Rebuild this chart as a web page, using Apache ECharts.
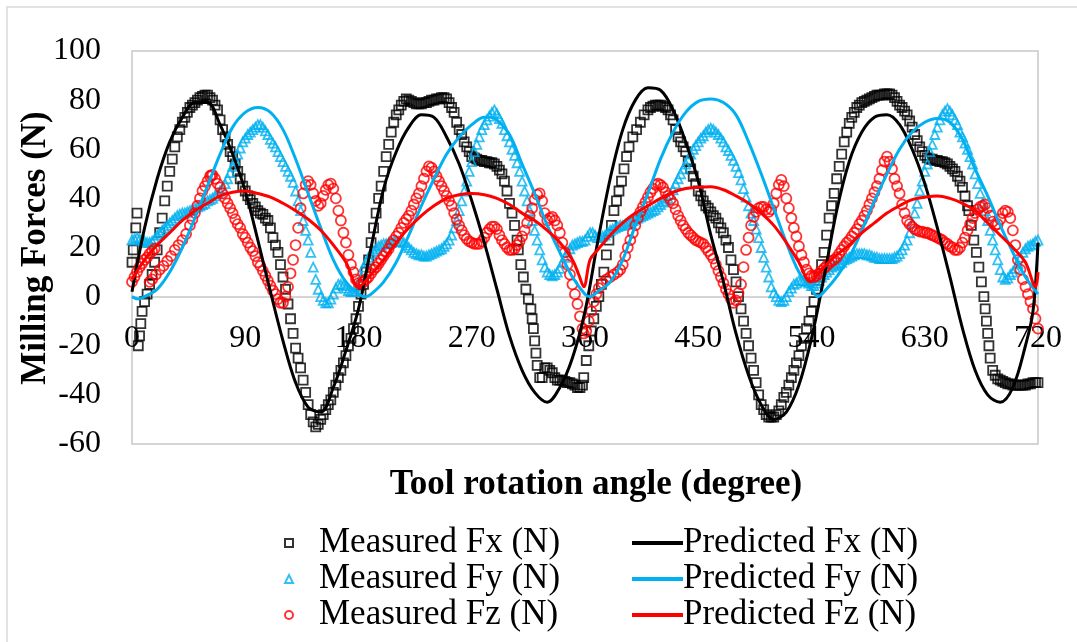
<!DOCTYPE html>
<html>
<head>
<meta charset="utf-8">
<script src="https://cdn.jsdelivr.net/npm/echarts@6/dist/echarts.min.js"></script>
<style>
html,body{margin:0;padding:0;background:#fff;}
#chart{width:1077px;height:642px;}
</style>
</head>
<body>
<div id="chart"></div>
<script>
// [angle (degree), force (N)]
const measuredFx = [[0,14],[1,19],[3,28],[4,34],[5,-20],[6,-16],[7,-11],[8,-6],[10,-2],[12,1],[14,5],[16,9],[18,14],[20,19],[22,26],[24,32],[26,39],[28,45],[30,51],[32,56],[34,61],[36,65],[38,68],[40,71],[42,73],[44,75],[46,77],[48,78],[50,79],[52,80],[54,81],[56,81.5],[58,82],[60,82],[62,81],[64,80],[66,78],[68,76],[70,72],[72,68],[74,65],[76,62],[78,59],[80,57],[82,54],[84,51],[86,48],[88,45],[90,43],[92,41],[94,39.5],[96,38],[98,36.5],[100,35],[102,34],[104,33.5],[106,32],[108,31],[110,28],[112,24],[114,21],[116,18],[118,13],[120,8],[122,3],[124,-3],[126,-9],[128,-15],[130,-21],[132,-25],[134,-29],[136,-34],[138,-39],[140,-44],[142,-48],[144,-51],[146,-53],[148,-52],[150,-50],[152,-48],[154,-46],[156,-44],[158,-42],[160,-39],[162,-36],[164,-33],[166,-30],[168,-27],[170,-24],[172,-20],[174,-17],[176,-13],[178,-9],[180,-4],[182,1],[184,5],[186,10],[188,15],[190,22],[192,28],[194,34],[196,40],[198,45],[200,51],[202,57],[204,62],[206,67],[208,71],[210,74],[212,76],[214,78],[216,79.5],[218,80.5],[220,80],[222,79.5],[224,79],[226,78.5],[228,78.5],[230,78.5],[232,79],[234,79],[236,79.5],[238,80],[240,80],[242,80.5],[244,80.5],[246,81],[248,81],[250,80.5],[252,79],[254,77],[256,75],[258,71],[260,68],[262,66],[264,63],[266,61],[268,59],[270,57],[272,56.5],[274,56],[276,55.5],[278,55.5],[280,55],[282,55],[284,54.5],[286,54.5],[288,54],[290,53],[292,51.5],[294,50],[296,47],[298,43],[300,38],[302,34],[304,29],[306,23],[307,19],[309,13],[311,8],[313,3],[315,-1],[317,-5],[318,-9],[319,-13],[320,-18],[321,-23],[322,-28],[324,-33],[326,-33],[328,-29],[330,-29],[332,-30],[334,-31],[336,-33],[338,-34],[340,-34],[342,-34],[344,-34.5],[346,-35],[348,-35],[350,-35.5],[352,-36],[354,-37],[356,-37],[358,-36],[359,-33],[361,-26],[363,-20],[365,-14],[367,-9],[369,-4],[371,0],[373,5],[375,10],[377,17],[379,23],[381,29],[383,35],[385,39],[387,43],[389,47],[391,52],[393,57],[395,61],[398,65],[401,68],[404,71],[407,74],[410,76],[412,77],[414,77.5],[416,78],[418,78],[420,78],[422,77.5],[424,77],[426,76],[428,74],[430,72],[432,68],[434,65],[436,63],[438,61],[440,59],[442,55],[444,52],[446,49],[448,46],[450,43],[452,41],[454,39],[456,37],[458,36],[460,34.5],[462,33],[464,32],[466,30],[468,28],[470,26],[472,23],[474,20],[476,15],[478,11],[480,6],[482,0],[484,-5],[486,-10],[488,-15],[490,-20],[492,-25],[494,-30],[496,-35],[498,-40],[500,-44],[502,-46],[504,-48],[506,-49],[508,-49],[510,-49],[512,-48],[514,-46.5],[516,-44],[518,-41],[520,-39],[522,-36],[524,-33],[526,-30],[528,-27],[530,-24],[532,-20],[534,-17],[536,-13],[538,-10],[540,-6],[542,-2],[544,3],[546,8],[548,13],[550,18],[552,25],[554,32],[556,37],[558,42],[560,48],[562,53],[564,58],[566,63],[568,67],[570,70.5],[572,73],[574,75],[576,77],[578,78],[580,79],[582,79.5],[584,80],[586,80.5],[588,81],[590,81.5],[592,82],[594,82],[596,82],[598,82.5],[600,82.5],[602,82.5],[604,82],[606,81],[608,79.5],[610,78],[612,77],[614,75.5],[616,74],[618,71.5],[620,69],[622,66],[624,63.5],[626,61],[628,59],[630,57.5],[632,56.5],[634,56],[636,56],[638,55.5],[640,55.5],[642,55],[644,55],[646,54.5],[648,54],[650,53],[652,52],[654,51],[656,49],[658,47],[660,44.5],[662,41],[664,37],[665,35],[667,29],[669,23],[671,18],[673,12],[675,6],[677,0],[678,-5],[679,-10],[680,-15],[681,-20],[682,-25],[684,-30],[686,-32],[688,-33.5],[690,-34],[692,-34.5],[694,-35],[696,-35.5],[698,-35.5],[700,-36],[702,-36],[704,-36],[706,-36],[708,-36],[710,-36],[712,-35.5],[714,-35.5],[716,-35],[718,-35],[720,-35]];

const measuredFy = [[0,23],[2,23.5],[4,24],[6,23.5],[8,23],[10,22.5],[12,22],[14,22],[16,22.5],[18,23.5],[20,25],[22,26],[24,27],[26,28],[28,29],[30,30],[32,31],[34,32],[36,33],[38,33.5],[40,34],[42,34],[44,34.5],[46,35],[48,35.5],[50,36],[52,36.5],[54,37],[56,37.5],[58,38],[60,39],[62,39.5],[64,40],[66,41],[68,42],[70,43],[72,44],[74,46],[76,48],[78,50.5],[80,53],[82,55.5],[84,58],[86,60.5],[88,63],[90,64.5],[92,66],[94,67],[96,68],[98,69],[100,70],[102,70],[104,69],[106,67.5],[108,66],[110,64],[112,62.5],[114,61],[116,59],[118,57],[120,55],[122,53],[124,51],[126,49],[128,46.5],[130,43],[132,39],[134,35],[136,31],[138,27],[140,23],[142,18],[144,12],[146,7],[148,3],[150,0],[152,-1.5],[154,-2.5],[156,-2.5],[158,-1],[160,1],[162,3.5],[164,5],[166,5],[168,4.5],[170,3.5],[172,2.5],[174,2],[176,2],[178,2],[180,4],[182,8],[184,12],[186,14],[188,16],[190,17.5],[192,18.5],[194,19.5],[196,20.5],[198,21],[200,21.5],[202,21.5],[204,22],[206,22],[208,22.5],[210,22.5],[212,22.5],[214,22.5],[216,22],[218,21],[220,20],[222,19],[224,18],[226,17.5],[228,17],[230,17],[232,16.5],[234,16.5],[236,17],[238,17.5],[240,18],[242,18.5],[244,19],[246,19.5],[248,20.5],[250,21.5],[252,23],[254,25],[256,28],[258,31],[260,35],[262,39],[264,43],[266,47],[268,51],[270,55],[272,59],[274,62],[276,65],[278,68],[280,70],[282,72],[284,73.5],[286,75],[288,76],[290,74.5],[292,72.5],[294,70.5],[296,68],[298,65.5],[300,63],[302,60],[304,57.5],[306,54.5],[308,51],[310,47],[312,43],[314,39],[316,35],[318,31],[320,27],[322,23],[324,19],[326,15],[328,12],[330,10],[332,9],[334,8.5],[336,9],[338,10],[340,11.5],[342,14],[344,16],[346,18],[348,19.5],[350,21],[352,21.5],[354,22],[356,22.5],[358,22.5],[360,23],[362,24.5],[364,26],[366,26],[368,25],[370,24],[372,24],[374,24.5],[376,25],[378,26],[380,27],[382,27.5],[384,28],[386,28.5],[388,29],[390,29],[392,29.5],[394,30],[396,30.5],[398,31],[400,31.5],[402,32],[404,32.5],[406,33],[408,33.5],[410,34],[412,34.5],[414,35],[416,35.5],[418,36.5],[420,37.5],[422,38.5],[424,39],[426,40],[428,41.5],[430,43.5],[432,46],[434,48],[436,50],[438,52],[440,54],[442,56],[444,58],[446,60],[448,61.5],[450,63],[452,64.5],[454,65.5],[456,67],[458,68],[460,68.5],[462,68],[464,67],[466,66],[468,64.5],[470,63],[472,61],[474,59.5],[476,57.5],[478,55.5],[480,53],[482,50.5],[484,47.5],[486,44],[488,40.5],[490,37],[492,34],[494,31],[496,27.5],[498,24],[500,20],[502,16],[504,12],[506,8],[508,4],[510,1.5],[512,0],[514,-1.5],[516,-2],[518,-1.5],[520,0],[522,2],[524,3.5],[526,5],[528,5.5],[530,6.5],[532,6.5],[534,6.5],[536,6],[538,5.5],[540,4.5],[542,4.5],[544,5.5],[546,6.5],[548,8],[550,9],[552,10],[554,11],[556,12],[558,12.5],[560,13],[562,13.5],[564,14],[566,15],[568,15.5],[570,16],[572,16.5],[574,17],[576,17.5],[578,17.5],[580,17.5],[582,17.5],[584,17],[586,17],[588,16.5],[590,16],[592,16],[594,15.5],[596,15.5],[598,15.5],[600,15.5],[602,15.5],[604,15.5],[606,16],[608,16.5],[610,17.5],[612,19],[614,21],[616,23],[618,26],[620,30],[622,34],[624,38],[626,43],[628,47],[630,51],[632,54],[634,59],[636,62],[638,66],[640,69],[642,72],[644,74],[646,75.5],[648,76.5],[650,75.5],[652,74],[654,72],[656,70],[658,67],[660,65],[662,62.5],[664,60],[666,57],[668,54],[670,50],[672,46],[674,42],[676,38],[678,35],[680,31],[682,27],[684,23],[686,19],[688,15],[690,11],[692,8],[694,7],[696,7.5],[698,9],[700,10],[702,11.5],[704,13.5],[706,16],[708,18],[710,19.5],[712,20.5],[714,21],[716,21.5],[718,22.5],[720,23]];

const measuredFz = [[0,6],[2,8],[4,10],[6,12],[8,13.5],[10,15],[12,16],[14,17.5],[16,18.5],[18,19.5],[14,6],[16,7],[19,9],[22,11],[25,12.5],[28,14.5],[31,16.5],[34,19],[37,21],[40,23],[43,25.5],[46,29],[48,31.5],[50,34],[52,37],[54,40],[56,43],[58,45],[60,47],[62,49],[63,49.5],[64,49.5],[66,48],[68,46],[70,44.5],[72,42],[74,40],[76,38],[78,36],[80,34],[82,31.5],[84,29.5],[86,28],[88,25.5],[90,24],[92,22],[94,20],[96,18.5],[98,16.5],[100,14],[102,12.5],[104,10.5],[106,8.5],[108,6.5],[110,4.5],[112,2.5],[114,1],[116,-1],[118,-2.5],[120,-2.5],[122,0],[124,4],[126,9.5],[128,15],[130,21],[132,28],[134,36],[136,42],[138,45.5],[140,47],[142,45.5],[144,42],[146,39],[148,37],[150,38],[152,41],[154,43.5],[156,45.5],[158,46],[160,44],[162,40],[164,35],[166,31],[168,26],[170,22],[172,17],[174,13],[176,10],[178,7],[180,5.5],[182,5],[184,6],[186,7],[188,8],[190,9.5],[192,11],[194,12],[196,13.5],[198,15],[200,16.5],[202,18],[204,19.5],[206,21.5],[208,23],[210,24.5],[212,26],[214,28],[216,30],[218,31.5],[220,33],[222,35],[224,37.5],[226,40],[228,42],[230,45],[232,48],[234,51],[236,53],[238,52.5],[240,51],[242,49],[244,47],[246,45],[248,43],[250,41],[252,39],[254,37],[256,34],[258,31.5],[260,29],[262,27],[264,25],[266,23.5],[268,22.5],[270,22],[272,21.5],[274,21.5],[276,21.5],[278,22.5],[280,24],[282,26],[284,27.5],[286,28.5],[288,28.5],[290,27.5],[292,25],[294,23],[296,21.5],[298,20],[300,19],[302,19],[304,19.5],[306,21],[308,22.5],[310,24.5],[312,27],[314,30],[316,33],[318,36],[320,39.5],[322,41.5],[324,42],[326,39],[328,34],[330,31],[332,32],[334,32.5],[336,31],[338,29],[340,26],[342,22],[344,18],[346,13],[348,9],[350,5],[352,1],[354,-3],[356,-8],[358,-13],[359,-15],[361,-14],[363,-10],[365,-6],[367,-2],[369,1],[371,3.5],[374,5.5],[377,7],[380,8],[383,9],[386,10],[388,11],[390,13],[392,16.5],[394,20],[396,23],[398,26],[400,29],[402,32],[404,34.5],[406,36.5],[408,38.5],[410,40.5],[412,42.5],[414,44],[416,45.5],[418,46],[420,45.5],[422,44.5],[424,42.5],[426,41],[428,39.5],[430,38],[432,35.5],[434,33],[436,31],[438,29],[440,27.5],[442,26],[444,25],[446,24],[448,23],[450,22.5],[452,22],[454,21.5],[456,20],[458,18.5],[460,17],[462,15.5],[464,13],[466,10.5],[468,8],[470,5.5],[472,3],[474,1],[476,-1],[478,-2.5],[480,-1.5],[482,1.5],[484,5],[486,12],[488,19],[490,24],[492,29],[494,32.5],[496,34.5],[498,36],[500,36.5],[502,36.5],[504,35.5],[506,34.5],[508,35.5],[510,38],[512,42],[514,45.5],[516,47.5],[518,45],[520,40],[522,36],[524,32],[526,28],[528,24.5],[530,20.5],[532,17],[534,14],[536,11],[538,9.5],[540,8.5],[542,8],[544,8.5],[546,9.5],[548,10.5],[550,11.5],[552,12.5],[554,13.5],[556,14.5],[558,15],[560,16],[562,17.5],[564,19],[566,20.5],[568,22],[570,23],[572,24.5],[574,26],[576,27.5],[578,29.5],[580,31],[582,33],[584,35],[586,37.5],[588,40],[590,42.5],[592,45],[594,48],[596,51.5],[598,55],[600,57],[602,55],[604,52],[606,48],[608,45],[610,42],[612,37.5],[614,34],[616,31],[618,29.5],[620,28.5],[622,27.5],[624,27],[626,26.5],[628,26.5],[630,26],[632,26],[634,25.5],[636,25],[638,24.5],[640,24],[642,23.5],[644,23],[646,22],[648,21.5],[650,20.5],[652,20],[654,19],[656,19],[658,20],[660,22],[662,24],[664,27],[666,29.5],[668,32],[670,34],[672,35.5],[674,36.5],[676,37],[678,37.5],[680,36],[682,33],[684,30.5],[686,29],[688,29.5],[690,31.5],[692,34],[694,35],[696,34.5],[698,32],[700,27],[702,21],[704,15],[706,11],[708,7],[710,4],[712,1],[714,-2],[716,-5],[718,-9],[720,-13]];

const predictedFx = [[0,2],[10,28],[20,48],[30,63],[40,73],[50,79],[60,79],[70,70],[80,58],[90,43],[100,23],[110,2],[120,-18],[130,-35],[140,-45],[150,-47],[160,-37],[170,-22],[180,-5],[190,20],[200,44],[210,59],[220,69],[230,74],[240,73],[250,65],[260,54],[270,39],[280,22],[290,3],[300,-16],[310,-30],[320,-39],[330,-43],[340,-37],[350,-25],[360,-6],[370,22],[380,48],[390,68],[400,80],[410,85],[420,84],[430,76],[440,63],[450,47],[460,25],[470,6],[480,-15],[490,-32],[500,-44],[510,-50],[520,-47],[530,-36],[540,-17],[550,8],[560,35],[570,55],[580,67],[590,73],[600,74],[610,70],[620,60],[630,46],[640,28],[650,8],[660,-13],[670,-30],[680,-40],[690,-43],[700,-37],[710,-20],[716,-6],[720,22]];

const predictedFy = [[0,0],[5,-1],[10,0],[20,3],[30,10],[40,20],[50,32],[60,45],[70,58],[80,69],[90,75],[100,77],[110,75],[120,68],[130,56],[140,42],[150,28],[160,15],[170,6],[180,1],[186,0],[190,1],[200,6],[210,14],[220,25],[230,37],[240,48],[250,58],[260,65],[270,70],[280,73],[285,73],[290,72],[300,66],[310,54],[320,42],[330,29],[340,18],[350,8],[360,1],[364,0],[370,2],[380,6],[390,15],[400,29],[410,42],[420,56],[430,67],[440,75],[450,79.5],[460,80.5],[470,79],[480,74],[490,63],[500,50],[510,36],[520,22],[530,10],[540,3],[545,0],[550,2],[560,8],[570,16],[580,27],[590,39],[600,50],[610,60],[620,67],[630,71],[640,72.5],[650,71],[660,64],[670,52],[680,41],[690,29],[700,18],[710,8],[720,1]];

const predictedFz = [[0,7],[10,15],[20,21],[30,26],[40,31],[50,35],[60,38],[70,41],[80,42.5],[90,43],[100,42],[110,40.5],[120,38],[130,35],[140,31.5],[150,27],[160,21],[170,14],[180,4],[190,9],[200,15],[210,22],[220,28],[230,33],[240,37],[250,40],[260,41.5],[270,42],[280,41.5],[290,40],[300,37.5],[310,34],[320,31],[330,27],[340,22],[350,15],[355,9],[359,4],[364,15],[370,19],[380,25],[390,30],[400,34],[410,37],[420,40],[430,42.5],[440,44],[450,44.5],[460,44.7],[470,43.5],[480,41],[490,38],[500,34],[510,29],[520,22],[530,14],[539,6],[545,9],[550,12],[560,17],[570,21],[580,26],[590,30],[600,34],[610,37],[620,39.5],[630,40.5],[640,41],[650,40],[660,38],[670,35],[680,30],[690,25],[700,20],[710,14],[718,4],[720,10]];

const seriesNames = ['Measured Fx (N)','Measured Fy (N)','Measured Fz (N)','Predicted Fx (N)','Predicted Fy (N)','Predicted Fz (N)'];
const colors = {x:'#000000', y:'#00b0f0', z:'#ff0000'};
const FONT = 'Liberation Serif';

const chart = echarts.init(document.getElementById('chart'), null, {renderer:'canvas'});

function scatter(name, data, symbol, size, color){
  return {
    name, type:'scatter', data, symbol, symbolSize:size,
    itemStyle:{color:'rgba(0,0,0,0)', borderColor:color, borderWidth:1.8},
    emphasis:{disabled:true}, animation:false, z:3
  };
}
function line(name, data, color){
  return {
    name, type:'line', data, showSymbol:false, symbol:'none', smooth:0.35,
    lineStyle:{color, width:3}, itemStyle:{color},
    emphasis:{disabled:true}, animation:false, z:4
  };
}

const legendText = {fontFamily:FONT, fontSize:35, color:'#000', lineHeight:36};

chart.setOption({
  backgroundColor:'#ffffff',
  animation:false,
  grid:{left:132, right:39, top:51, bottom:198, show:true, borderColor:'#c8c8c8', borderWidth:1.5, backgroundColor:'transparent'},
  xAxis:{
    type:'value', min:0, max:720, interval:90, position:'bottom', offset:0,
    axisLine:{show:true, onZero:false, lineStyle:{color:'#c8c8c8', width:1.5}},
    axisTick:{show:false}, splitLine:{show:false},
    axisLabel:{fontFamily:FONT, fontSize:32, color:'#000', margin:26}
  },
  yAxis:{
    type:'value', min:-60, max:100, interval:20,
    axisLine:{show:false, onZero:false}, axisTick:{show:false}, splitLine:{show:false},
    axisLabel:{fontFamily:FONT, fontSize:32, color:'#000', margin:31}
  },
  legend:[
    {
      data:seriesNames.slice(0,3).map(n => ({name:n})), orient:'vertical', left:279, top:520,
      itemWidth:8, itemHeight:8, itemGap:0,
      textStyle:Object.assign({padding:[0,0,0,21]}, legendText),
      selectedMode:false
    },
    {
      data:seriesNames.slice(3).map(n => ({name:n, icon:'rect'})), orient:'vertical', left:627, top:520,
      itemWidth:51, itemHeight:4, itemGap:0,
      textStyle:Object.assign({padding:[0,0,0,-5]}, legendText),
      selectedMode:false
    }
  ],
  graphic:[
    {type:'rect', shape:{x:7, y:7, width:1090, height:660}, style:{fill:'none', stroke:'#d9d9d9', lineWidth:1.5}, silent:true},
    {type:'text', x:596, y:485, style:{text:'Tool rotation angle (degree)', font:'bold 35px "Liberation Serif"', fill:'#000', align:'center', verticalAlign:'middle', textAlign:'center', textVerticalAlign:'middle'}, silent:true},
    {type:'text', x:36, y:248, rotation:Math.PI/2, style:{text:'Milling Forces (N)', font:'bold 35px "Liberation Serif"', fill:'#000', align:'center', verticalAlign:'middle', textAlign:'center', textVerticalAlign:'middle'}, silent:true}
  ],
  series:[
    scatter(seriesNames[0], measuredFx, 'rect', 9, colors.x),
    scatter(seriesNames[1], measuredFy, 'triangle', 9, colors.y),
    scatter(seriesNames[2], measuredFz, 'circle', 10, colors.z),
    line(seriesNames[3], predictedFx, colors.x),
    line(seriesNames[4], predictedFy, colors.y),
    line(seriesNames[5], predictedFz, colors.z)
  ]
});

// Put the x axis on the y = 0 line, using the library's own y scale.
const yZero = chart.convertToPixel({yAxisIndex:0}, 0);
const yMin = chart.convertToPixel({yAxisIndex:0}, -60);
chart.setOption({xAxis:{offset: yZero - yMin}});
</script>
</body>
</html>
